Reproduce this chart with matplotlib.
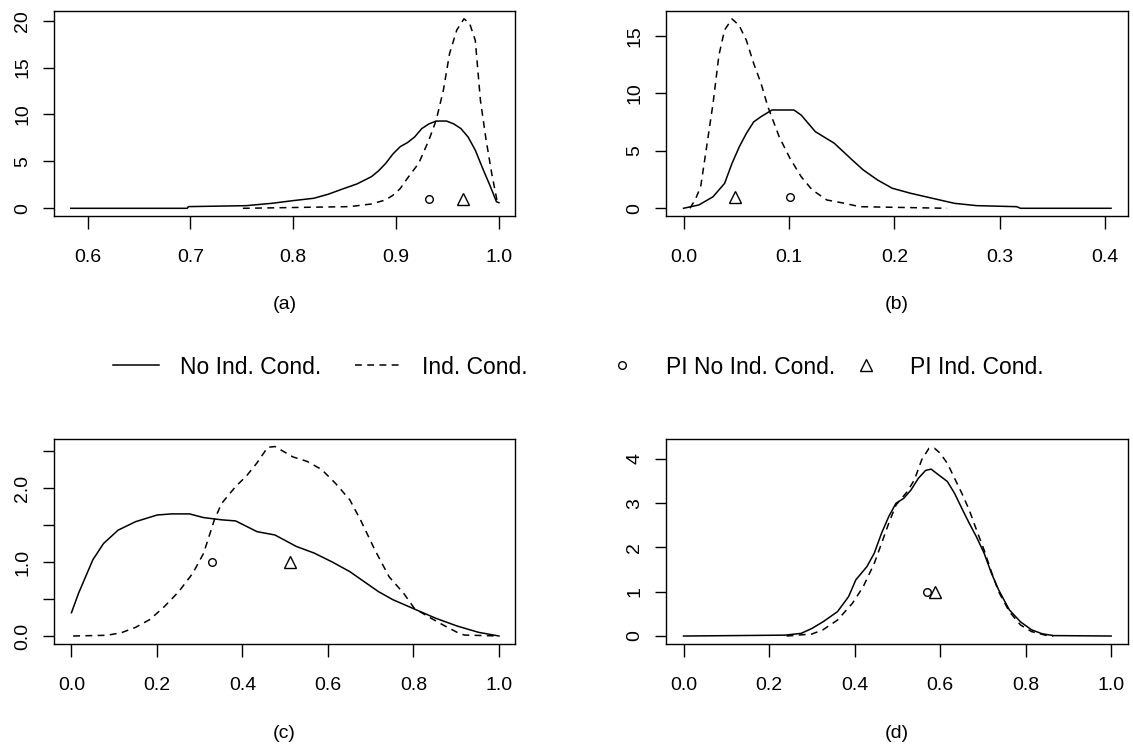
import matplotlib
matplotlib.use("Agg")
import matplotlib.pyplot as plt
from matplotlib.lines import Line2D

plt.rcParams['font.family'] = ['Liberation Sans', 'DejaVu Sans']

# ---------------- data ----------------
# panel (a)
a_solid_x = [0.5837, 0.697, 0.698, 0.754, 0.779, 0.80, 0.82, 0.834, 0.848, 0.862, 0.876, 0.883,
             0.890, 0.897, 0.904, 0.911, 0.918, 0.925, 0.932, 0.939, 0.949, 0.956, 0.963, 0.970,
             0.977, 0.984, 0.991, 0.9976, 1.0]
a_solid_y = [0, 0, 0.18, 0.28, 0.53, 0.82, 1.07, 1.5, 2.06, 2.6, 3.37, 4.0, 4.8, 5.8, 6.57, 7.0,
             7.6, 8.5, 9.0, 9.3, 9.3, 9.0, 8.5, 7.6, 6.2, 4.3, 2.5, 0.7, 0.6]
a_dash_x = [0.751, 0.855, 0.876, 0.89, 0.897, 0.904, 0.911, 0.922, 0.932, 0.939, 0.946, 0.952,
            0.959, 0.966, 0.9715, 0.977, 0.982, 0.9875, 0.993, 0.998]
a_dash_y = [0, 0.18, 0.46, 0.9, 1.4, 2.1, 3.2, 4.8, 7.3, 9.4, 12.6, 16.5, 19.0, 20.2, 19.7,
            17.9, 11.5, 7.3, 3.7, 0.9]
a_pi_no = 0.9316
a_pi_ind = 0.965

# panel (b)
b_solid_x = [0, 0.0146, 0.028, 0.039, 0.046, 0.053, 0.0596, 0.0665, 0.0735, 0.0839, 0.1047,
             0.1116, 0.125, 0.143, 0.160, 0.1705, 0.184, 0.198, 0.2156, 0.236, 0.257, 0.278,
             0.316, 0.3196, 0.4055]
b_solid_y = [0, 0.29, 1.0, 2.17, 3.9, 5.36, 6.5, 7.5, 7.96, 8.54, 8.54, 8.1, 6.66, 5.65, 4.2,
             3.33, 2.46, 1.74, 1.3, 0.87, 0.43, 0.23, 0.14, 0, 0]
b_dash_x = [0.006, 0.011, 0.0163, 0.0215, 0.028, 0.0336, 0.039, 0.046, 0.0527, 0.0596, 0.0665,
            0.0735, 0.080, 0.0908, 0.101, 0.1116, 0.122, 0.136, 0.153, 0.167, 0.25]
b_dash_y = [0, 0.72, 1.88, 5.07, 9.1, 13.3, 15.5, 16.45, 15.9, 14.6, 12.6, 10.86, 8.83, 6.2,
            4.34, 2.75, 1.6, 0.72, 0.43, 0.14, 0]
b_pi_no = 0.101
b_pi_ind = 0.049

# panel (c)
c_solid_x = [0, 0.0167, 0.033, 0.05, 0.075, 0.109, 0.150, 0.2005, 0.234, 0.276, 0.309, 0.351,
             0.384, 0.434, 0.476, 0.526, 0.568, 0.61, 0.651, 0.718, 0.752, 0.802, 0.852, 0.902,
             0.952, 1.0]
c_solid_y = [0.315, 0.58, 0.80, 1.03, 1.25, 1.43, 1.545, 1.635, 1.65, 1.65, 1.60, 1.57, 1.555,
             1.41, 1.365, 1.21, 1.12, 1.0, 0.87, 0.60, 0.49, 0.365, 0.24, 0.135, 0.05, 0]
c_dash_x = [0.004, 0.0835, 0.117, 0.150, 0.184, 0.217, 0.251, 0.284, 0.309, 0.334, 0.351, 0.384,
            0.409, 0.434, 0.459, 0.476, 0.518, 0.551, 0.585, 0.618, 0.651, 0.676, 0.71, 0.743,
            0.777, 0.802, 0.835, 0.869, 0.902, 0.919, 1.0]
c_dash_y = [0, 0.01, 0.045, 0.117, 0.225, 0.396, 0.6, 0.85, 1.117, 1.565, 1.79, 2.02, 2.16,
            2.34, 2.55, 2.56, 2.42, 2.36, 2.25, 2.06, 1.84, 1.57, 1.16, 0.80, 0.577, 0.374,
            0.26, 0.15, 0.05, 0.013, 0]
c_pi_no = 0.329
c_pi_ind = 0.51

# panel (d)
d_solid_x = [0, 0.237, 0.275, 0.30, 0.326, 0.36, 0.386, 0.403, 0.429, 0.446, 0.463, 0.48, 0.497,
             0.515, 0.532, 0.549, 0.566, 0.579, 0.591, 0.617, 0.634, 0.651, 0.668, 0.685, 0.703,
             0.72, 0.737, 0.762, 0.788, 0.814, 0.839, 0.865, 1.0]
d_solid_y = [0, 0.02, 0.06, 0.17, 0.32, 0.55, 0.89, 1.27, 1.57, 1.87, 2.32, 2.70, 3.0, 3.11,
             3.30, 3.56, 3.74, 3.77, 3.68, 3.49, 3.22, 2.88, 2.55, 2.24, 1.87, 1.42, 1.04, 0.59,
             0.32, 0.14, 0.05, 0.01, 0]
d_dash_x = [0.241, 0.30, 0.326, 0.36, 0.395, 0.42, 0.446, 0.463, 0.48, 0.497, 0.523, 0.54,
            0.557, 0.574, 0.587, 0.6, 0.617, 0.634, 0.651, 0.668, 0.685, 0.703, 0.72, 0.737,
            0.762, 0.788, 0.814, 0.848, 0.865]
d_dash_y = [0, 0.045, 0.14, 0.36, 0.74, 1.11, 1.64, 2.09, 2.55, 2.96, 3.26, 3.53, 3.98, 4.24,
            4.24, 4.13, 3.9, 3.56, 3.22, 2.85, 2.4, 1.94, 1.45, 1.0, 0.55, 0.25, 0.1, 0.015, 0]
d_pi_no = 0.57
d_pi_ind = 0.587

pi_height = 1.0

panel_labels = ['(a)', '(b)', '(c)', '(d)']
legend_labels = ['No Ind. Cond.', 'Ind. Cond.', 'PI No Ind. Cond.', 'PI Ind. Cond.']

a_xticks = [0.6, 0.7, 0.8, 0.9, 1.0]
a_yticks = [0, 5, 10, 15, 20]
b_xticks = [0.0, 0.1, 0.2, 0.3, 0.4]
b_yticks = [0, 5, 10, 15]
c_xticks = [0.0, 0.2, 0.4, 0.6, 0.8, 1.0]
c_yticks = [0.0, 0.5, 1.0, 1.5, 2.0, 2.5]
c_ylabels = ['0.0', '', '1.0', '', '2.0', '']
d_xticks = [0.0, 0.2, 0.4, 0.6, 0.8, 1.0]
d_yticks = [0, 1, 2, 3, 4]

# ---------------- figure ----------------
W, H = 1133, 751
fig = plt.figure(figsize=(W / 100, H / 100), dpi=100)

DASH = (4.5, 3.5)
LW = 1.1
TICK_FS = 14

def px_axes(left, top, right, bottom):
    return fig.add_axes([left / W, 1 - bottom / H, (right - left) / W, (bottom - top) / H])

panels = [
    dict(box=(53.6, 11, 515.4, 216), sx=a_solid_x, sy=a_solid_y, dx=a_dash_x, dy=a_dash_y,
         pn=a_pi_no, pi=a_pi_ind, xlim=(0.567, 1.016), ylim=(-0.82, 21.03),
         xt=a_xticks, xl=['%.1f' % v for v in a_xticks], yt=a_yticks, yl=[str(v) for v in a_yticks]),
    dict(box=(666, 11, 1127.6, 216), sx=b_solid_x, sy=b_solid_y, dx=b_dash_x, dy=b_dash_y,
         pn=b_pi_no, pi=b_pi_ind, xlim=(-0.0166, 0.4212), ylim=(-0.67, 17.14),
         xt=b_xticks, xl=['%.1f' % v for v in b_xticks], yt=b_yticks, yl=[str(v) for v in b_yticks]),
    dict(box=(53.6, 439, 515.4, 644), sx=c_solid_x, sy=c_solid_y, dx=c_dash_x, dy=c_dash_y,
         pn=c_pi_no, pi=c_pi_ind, xlim=(-0.0418, 1.0384), ylim=(-0.108, 2.662),
         xt=c_xticks, xl=['%.1f' % v for v in c_xticks], yt=c_yticks, yl=c_ylabels),
    dict(box=(666, 439, 1127.6, 644), sx=d_solid_x, sy=d_solid_y, dx=d_dash_x, dy=d_dash_y,
         pn=d_pi_no, pi=d_pi_ind, xlim=(-0.041, 1.0385), ylim=(-0.18, 4.45),
         xt=d_xticks, xl=['%.1f' % v for v in d_xticks], yt=d_yticks, yl=[str(v) for v in d_yticks]),
]

label_y_px = [304, 304, 733, 733]

for i, p in enumerate(panels):
    l, t, r, b = p['box']
    ax = px_axes(l, t, r, b)
    ax.plot(p['sx'], p['sy'], color='black', lw=LW, solid_joinstyle='round')
    ax.plot(p['dx'], p['dy'], color='black', lw=LW, dashes=DASH)
    ax.plot([p['pn']], [pi_height], marker='o', ms=5.5, mfc='none', mec='black', mew=1.0,
            linestyle='none')
    ax.plot([p['pi']], [pi_height], marker='^', ms=9, mfc='none', mec='black', mew=1.0,
            linestyle='none')
    ax.set_xlim(*p['xlim'])
    ax.set_ylim(*p['ylim'])
    ax.set_xticks(p['xt'])
    ax.set_xticklabels(p['xl'], fontsize=TICK_FS)
    ax.set_yticks(p['yt'])
    ax.set_yticklabels(p['yl'], fontsize=TICK_FS, rotation=90, va='center')
    ax.tick_params(axis='x', direction='out', length=9.6, width=1.0, pad=14)
    ax.tick_params(axis='y', direction='out', length=7.7, width=1.0, pad=8.5)
    for s in ax.spines.values():
        s.set_linewidth(1.0)
    fig.text((l + r) / 2 / W, 1 - label_y_px[i] / H, panel_labels[i], ha='center',
             va='center', fontsize=TICK_FS)

# ---------------- legend ----------------
handles = [
    Line2D([], [], color='black', lw=LW),
    Line2D([], [], color='black', lw=LW, dashes=DASH),
    Line2D([], [], marker='o', ms=5.5, mfc='none', mec='black', mew=1.0, linestyle='none'),
    Line2D([], [], marker='^', ms=9, mfc='none', mec='black', mew=1.0, linestyle='none'),
]
leg_x_px = [112.8, 355, 599, 843]
leg_y = 1 - 367 / H
for h, lab, xp in zip(handles, legend_labels, leg_x_px):
    lg = fig.legend([h], [lab], loc='center left', bbox_to_anchor=(xp / W, leg_y),
                    frameon=False, fontsize=16.5, handlelength=2.0, handletextpad=0.92,
                    borderpad=0, borderaxespad=0, numpoints=1)

fig.savefig('out.png', dpi=100)
